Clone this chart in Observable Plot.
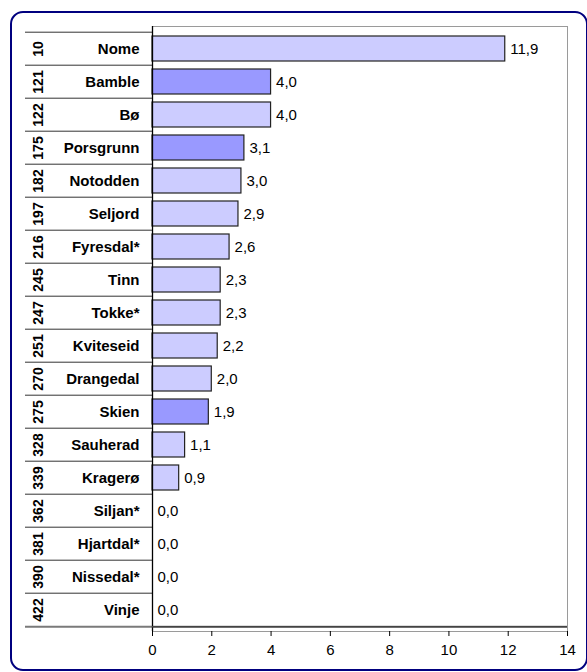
<!DOCTYPE html>
<html>
<head>
<meta charset="utf-8">
<script src="https://cdn.jsdelivr.net/npm/d3@7"></script>
<script src="https://cdn.jsdelivr.net/npm/@observablehq/plot@0.6"></script>
<style>
  html, body { margin: 0; padding: 0; background: #fff; }
  #wrap { position: relative; width: 587px; height: 672px; overflow: hidden; font-family: "Liberation Sans", Arial, sans-serif; }
  #border { position: absolute; left: 10px; top: 11px; width: 574px; height: 656px; border: 2px solid #00007f; border-radius: 13px; }
  #chart { position: absolute; left: 0; top: 0; }
</style>
</head>
<body>
<div id="wrap"><div id="border"></div><div id="chart"></div></div>
<script>
const codes = ["10","121","122","175","182","197","216","245","247","251","270","275","328","339","362","381","390","422"];
const names = ["Nome","Bamble","Bø","Porsgrunn","Notodden","Seljord","Fyresdal*","Tinn","Tokke*","Kviteseid","Drangedal","Skien","Sauherad","Kragerø","Siljan*","Hjartdal*","Nissedal*","Vinje"];
const values = [11.9,4.0,4.0,3.1,3.0,2.9,2.6,2.3,2.3,2.2,2.0,1.9,1.1,0.9,0.0,0.0,0.0,0.0];
const highlighted = ["Bamble","Porsgrunn","Skien"];
const xTicks = [0,2,4,6,8,10,12,14];

const data = names.map((n, i) => ({name: n, code: codes[i], value: values[i], hi: highlighted.includes(n)}));

const W = 587, H = 672, mL = 152, mR = 20, mT = 26, mB = 41;
const step = (H - mT - mB) / names.length;
const fmt = v => v.toFixed(1).replace(".", ",");

const chart = Plot.plot({
  width: W, height: H,
  marginLeft: mL, marginRight: mR, marginTop: mT, marginBottom: mB,
  style: {fontFamily: "'Liberation Sans', Arial, sans-serif", fontSize: "15px", color: "#000", background: "transparent", overflow: "visible"},
  x: {domain: [0, 14], ticks: xTicks},
  y: {domain: names, paddingInner: 0.25, paddingOuter: 0.125, axis: null},
  marks: [
    Plot.frame({stroke: "#9a9a9a", strokeWidth: 1}),
    // row separators in the label column
    Plot.ruleY(names, {y: d => d, dy: -step / 2, stroke: "#333", strokeWidth: 1, insetLeft: -127, insetRight: W - mL - mR}),
    // bottom line
    Plot.ruleY([names[names.length - 1]], {y: d => d, dy: step / 2, stroke: "#7a7a7a", strokeWidth: 2, insetLeft: -127}),
    Plot.barX(data.filter(d => d.value > 0), {
      x: "value", y: "name",
      fill: d => d.hi ? "#9999ff" : "#ccccff",
      stroke: "#222", strokeWidth: 1.2
    }),
    Plot.text(data, {x: "value", y: "name", text: d => fmt(d.value), textAnchor: "start", dx: 5, fontSize: 15, fill: "#000", letterSpacing: "0.6px"}),
    Plot.text(data, {y: "name", text: "name", frameAnchor: "left", textAnchor: "end", dx: -13, fontWeight: "bold", fontSize: 15, fill: "#000", letterSpacing: "0.2px"}),
    Plot.text(data, {y: "name", text: "code", frameAnchor: "left", textAnchor: "middle", dx: -114, rotate: -90, fontWeight: "bold", fontSize: 14, fill: "#000"}),
    Plot.ruleX([0], {stroke: "#000", strokeWidth: 1.3}),
    Plot.axisX({ticks: xTicks, tickSize: 5, tickPadding: 8, tickFormat: d => String(d), label: null, fontSize: 15, stroke: "#000"}),
    Plot.ruleY([names[names.length - 1]], {y: d => d, dy: step / 2, stroke: "#444", strokeWidth: 1.5})
  ]
});
document.getElementById("chart").appendChild(chart);
</script>
</body>
</html>
